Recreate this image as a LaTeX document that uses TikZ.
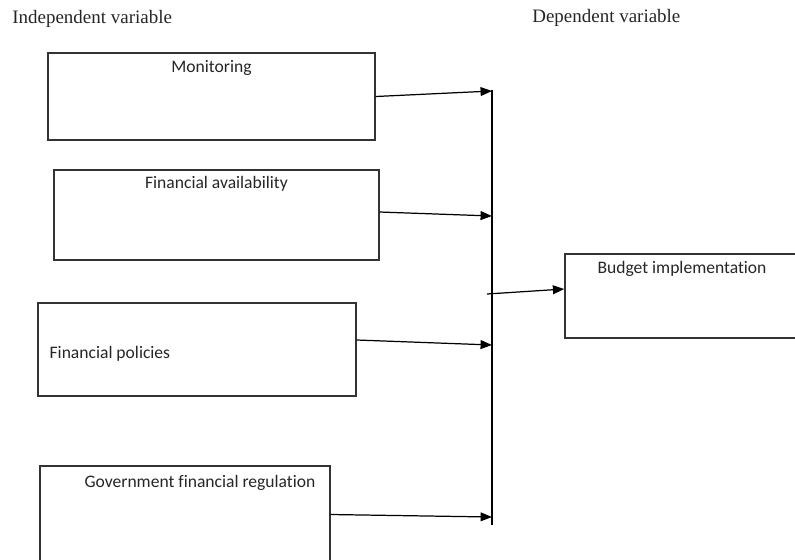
\documentclass[tikz,border=0pt]{standalone}
\usepackage{fontspec}
\setmainfont{Liberation Serif}
\newfontfamily\calibri[Ligatures=NoCommon]{Carlito}
\usepackage{tikz}
\usetikzlibrary{arrows.meta,positioning}
\tikzstyle{varbox} = [draw=black!80, line width=0.8pt, inner sep=0pt]
\tikzstyle{boxtext} = [font=\calibri\fontsize{10}{12}\selectfont, text=black!85, inner sep=0pt]
\tikzstyle{heading} = [anchor=west, font=\fontsize{10.8}{13}\selectfont, text=black!85, inner sep=0pt]
\tikzstyle{arrow} = [line width=0.7pt,-{Triangle[length=6.5pt,width=5pt]}]

\begin{document}
\begin{tikzpicture}[x=0.02cm,y=-0.02cm]
        \useasboundingbox (0,0) rectangle (795,559);
        % headings
        \node[heading] (indep) at (12,18.5) {Independent variable};
        \node[heading] (dep) at (532,17.5) {Dependent variable};
        % independent variables
        \node[varbox, minimum width=6.54cm, minimum height=1.74cm] (mon) at (211.5,96.5) {};
        \node[varbox, minimum width=6.5cm, minimum height=1.8cm] (fa) at (216.5,215) {};
        \node[varbox, minimum width=6.36cm, minimum height=1.86cm] (fp) at (197,349.5) {};
        \node[varbox, minimum width=5.8cm, minimum height=1.94cm] (gfr) at (185,514.5) {};
        \node[boxtext, below=0.16cm of mon.north] (montext) {Monitoring};
        \node[boxtext, below=0.14cm of fa.north] (fatext) {Financial availability};
        \node[boxtext, right=0.24cm of fp.west, yshift=-0.09cm] (fptext) {Financial policies};
        \node[boxtext, below=0.2cm of gfr.north, xshift=0.3cm] (gfrtext) {Government financial regulation};
        % dependent variable
        \node[varbox, minimum width=4.68cm, minimum height=1.68cm] (bud) at (682,296) {};
        \node[boxtext, below=0.16cm of bud.north] (budtext) {Budget implementation};
        % joining line
        \coordinate (bustop) at (492,90);
        \coordinate (busbot) at (492,525);
        \coordinate (m1) at (492,91);
        \coordinate (m2) at (492,216);
        \coordinate (m3) at (492,345);
        \coordinate (m4) at (492,517);
        \coordinate (out) at (487,294);
        \draw[line width=0.7pt] (bustop) -- (busbot);
        \draw[arrow] (mon.east) -- (m1);
        \draw[arrow] ([yshift=0.06cm]fa.east) -- (m2);
        \draw[arrow] ([yshift=0.19cm]fp.east) -- (m3);
        \draw[arrow] (gfr.east) -- (m4);
        \draw[arrow] (out) -- ([yshift=0.14cm]bud.west);
    \end{tikzpicture}
\end{document}
